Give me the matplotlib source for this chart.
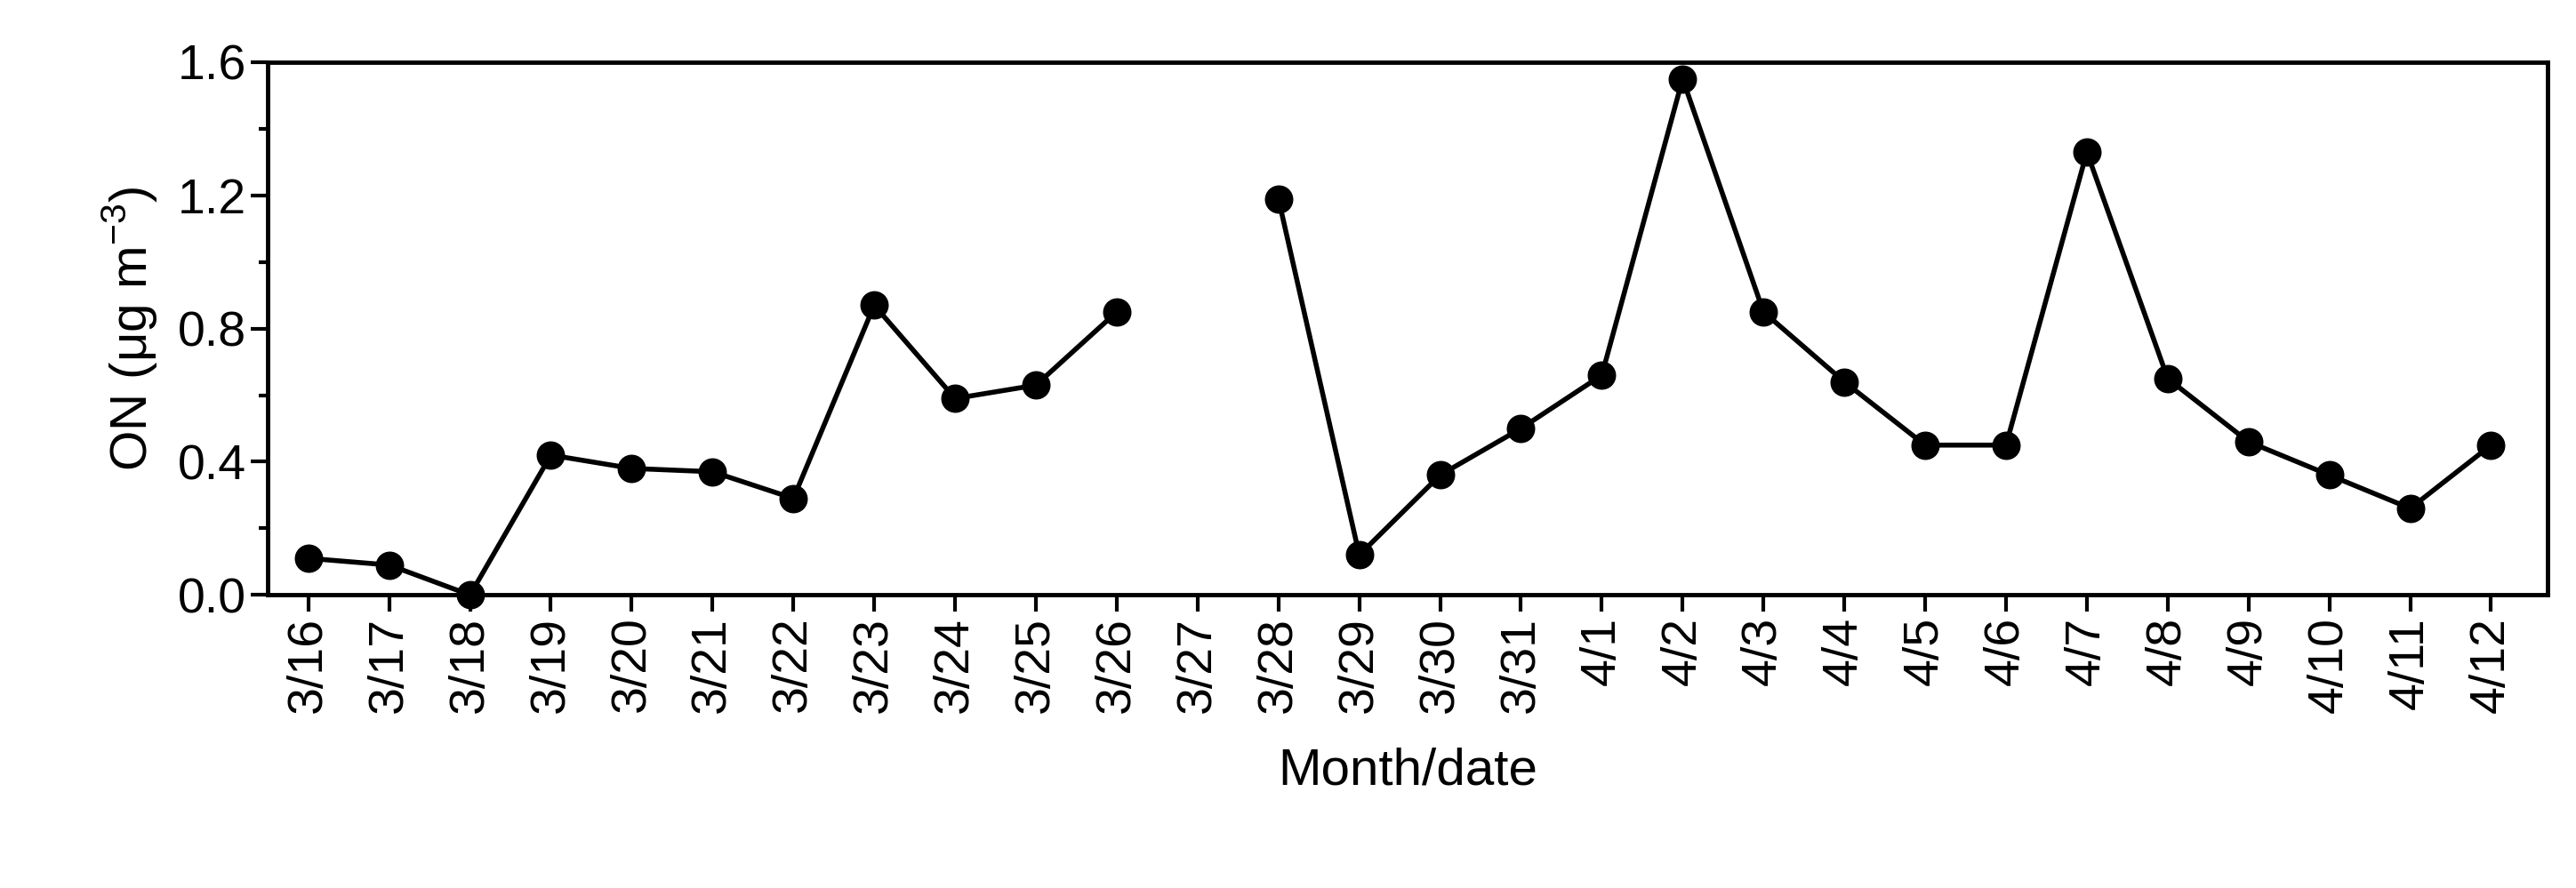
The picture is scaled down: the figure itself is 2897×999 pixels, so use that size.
import numpy as np
import matplotlib.pyplot as plt

dates = ["3/16", "3/17", "3/18", "3/19", "3/20", "3/21", "3/22", "3/23", "3/24", "3/25",
         "3/26", "3/27", "3/28", "3/29", "3/30", "3/31", "4/1", "4/2", "4/3", "4/4",
         "4/5", "4/6", "4/7", "4/8", "4/9", "4/10", "4/11", "4/12"]
on_vals = [0.11, 0.09, 0.00, 0.42, 0.38, 0.37, 0.29, 0.87, 0.59, 0.63,
           0.85, np.nan, 1.19, 0.12, 0.36, 0.50, 0.66, 1.55, 0.85, 0.64,
           0.45, 0.45, 1.33, 0.65, 0.46, 0.36, 0.26, 0.45]

plt.rcParams['font.family'] = ['Liberation Sans', 'DejaVu Sans']
fig = plt.figure(figsize=(28.97, 9.99), dpi=100)
ax = fig.add_axes([0.104, 0.33, 0.885, 0.60])

x = np.arange(len(dates))
ax.plot(x, on_vals, 'k-', marker='o', markersize=22, linewidth=4, clip_on=False, zorder=3)

ax.set_xlim(-0.5, 27.7)
ax.set_ylim(0, 1.6)
ax.set_xticks(x)
ax.set_xticklabels(dates, rotation=90, fontsize=40)
ax.set_yticks([0.0, 0.4, 0.8, 1.2, 1.6])
ax.set_yticklabels(["0.0", "0.4", "0.8", "1.2", "1.6"], fontsize=40)
ax.set_yticks(np.arange(0.2, 1.6, 0.4), minor=True)
ax.tick_params(which='major', direction='out', length=14, width=3)
ax.tick_params(which='minor', direction='out', length=7, width=3)
for s in ax.spines.values():
    s.set_linewidth(3.5)

ax.set_xlabel("Month/date", fontsize=42, labelpad=28)
ax.set_ylabel(r"ON ($\mathregular{\mu}$g m$^{\mathregular{-3}}$)", fontsize=42, labelpad=14)

fig.savefig("out.png", dpi=100)
